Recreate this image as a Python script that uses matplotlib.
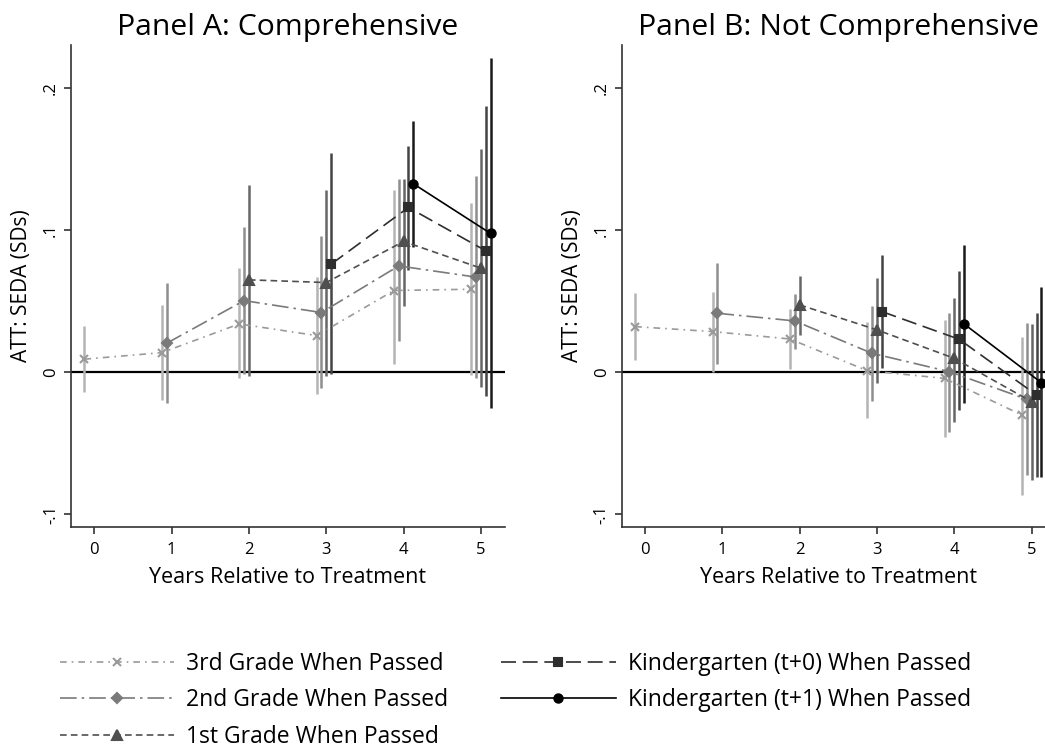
import numpy as np
import matplotlib
matplotlib.use("Agg")
import matplotlib.pyplot as plt

plt.rcParams['font.family'] = ['Open Sans', 'DejaVu Sans']

# years relative to treatment for each cohort
t_3rd = [0, 1, 2, 3, 4, 5]
t_2nd = [1, 2, 3, 4, 5]
t_1st = [2, 3, 4, 5]
t_k0 = [3, 4, 5]
t_k1 = [4, 5]

# Panel A: Comprehensive (estimate, lower CI, upper CI)
a_3rd = [0.009, 0.0136, 0.0338, 0.0256, 0.0573, 0.0582]
a_3rd_lo = [-0.0139, -0.0197, -0.0045, -0.0155, 0.0056, -0.0021]
a_3rd_hi = [0.0324, 0.0472, 0.073, 0.0671, 0.1277, 0.119]

a_2nd = [0.0202, 0.0502, 0.0418, 0.0746, 0.0667]
a_2nd_lo = [-0.022, -0.0014, -0.0115, 0.0215, -0.0045]
a_2nd_hi = [0.0629, 0.102, 0.0958, 0.1357, 0.1376]

a_1st = [0.0648, 0.0629, 0.0918, 0.073]
a_1st_lo = [-0.0028, -0.0028, 0.0465, -0.0108]
a_1st_hi = [0.1317, 0.1277, 0.1359, 0.157]

a_k0 = [0.0758, 0.1157, 0.0852]
a_k0_lo = [-0.0014, 0.0718, -0.017]
a_k0_hi = [0.154, 0.1592, 0.187]

a_k1 = [0.1324, 0.0974]
a_k1_lo = [0.088, -0.0256]
a_k1_hi = [0.1763, 0.2209]

# Panel B: Not Comprehensive
b_3rd = [0.0319, 0.0284, 0.0232, 0.0009, -0.0045, -0.0303]
b_3rd_lo = [0.0085, 0.0002, 0.0019, -0.0326, -0.0455, -0.0866]
b_3rd_hi = [0.0554, 0.0559, 0.0441, 0.0354, 0.0366, 0.0249]

b_2nd = [0.0413, 0.0359, 0.0131, 0.0002, -0.0192]
b_2nd_lo = [0.0056, 0.0162, -0.0204, -0.042, -0.0725]
b_2nd_hi = [0.0765, 0.0549, 0.0467, 0.0418, 0.0343]

b_1st = [0.0472, 0.0296, 0.0096, -0.0209]
b_1st_lo = [0.026, -0.008, -0.035, -0.0761]
b_1st_hi = [0.0676, 0.066, 0.0519, 0.0338]

b_k0 = [0.0425, 0.023, -0.0162]
b_k0_lo = [0.0026, -0.0268, -0.0737]
b_k0_hi = [0.0824, 0.0713, 0.0418]

b_k1 = [0.0338, -0.0075]
b_k1_lo = [-0.0216, -0.074]
b_k1_hi = [0.089, 0.0596]

labels = ['3rd Grade When Passed', '2nd Grade When Passed', '1st Grade When Passed',
          'Kindergarten (t+0) When Passed', 'Kindergarten (t+1) When Passed']
colors = ['#9a9a9a', '#7a7a7a', '#4f4f4f', '#2e2e2e', '#000000']
ci_colors = ['#b4b4b4', '#8e8e8e', '#666666', '#444444', '#1a1a1a']
markers = ['x', 'D', '^', 's', 'o']
msizes = [6, 5, 7, 6, 6]
styles = [(0, (4, 3, 1, 3)), (0, (10, 3, 1.5, 3)), (0, (4, 2.5)), (0, (9, 4)), '-']
offsets = [-0.125, -0.0625, 0, 0.0625, 0.125]

times = [t_3rd, t_2nd, t_1st, t_k0, t_k1]
panel_a = [(a_3rd, a_3rd_lo, a_3rd_hi), (a_2nd, a_2nd_lo, a_2nd_hi), (a_1st, a_1st_lo, a_1st_hi),
           (a_k0, a_k0_lo, a_k0_hi), (a_k1, a_k1_lo, a_k1_hi)]
panel_b = [(b_3rd, b_3rd_lo, b_3rd_hi), (b_2nd, b_2nd_lo, b_2nd_hi), (b_1st, b_1st_lo, b_1st_hi),
           (b_k0, b_k0_lo, b_k0_hi), (b_k1, b_k1_lo, b_k1_hi)]

fig = plt.figure(figsize=(10.45, 7.54), dpi=100)
ax1 = fig.add_axes([0.0679, 0.3011, 0.4153, 0.6393])
ax2 = fig.add_axes([0.5949, 0.3011, 0.4153, 0.6393])


def draw_panel(ax, data, title):
    ax.axhline(0, color='black', lw=1.6, zorder=1)
    handles = []
    for i in range(5):
        est, lo, hi = data[i]
        x = np.array(times[i]) + offsets[i]
        ax.vlines(x, lo, hi, color=ci_colors[i], lw=1.8, zorder=2)
        h, = ax.plot(x, est, color=colors[i], linestyle=styles[i], lw=1.2,
                     marker=markers[i], markersize=msizes[i], markeredgewidth=1.5,
                     zorder=3, label=labels[i])
        handles.append(h)
    ax.set_xlim(-0.3, 5.31)
    ax.set_ylim(-0.109, 0.230)
    ax.set_xticks([0, 1, 2, 3, 4, 5])
    ax.set_yticks([-0.1, 0, 0.1, 0.2])
    ax.set_yticklabels(['-.1', '0', '.1', '.2'], rotation=90, va='center')
    ax.tick_params(axis='both', labelsize=12, length=5, width=1.2, color='#333333', pad=6)
    ax.tick_params(axis='y', pad=3.5)
    for s in ['top', 'right']:
        ax.spines[s].set_visible(False)
    for s in ['left', 'bottom']:
        ax.spines[s].set_color('#333333')
        ax.spines[s].set_linewidth(1.2)
    ax.set_xlabel('Years Relative to Treatment', fontsize=15.5, labelpad=6)
    ax.set_ylabel('ATT: SEDA (SDs)', fontsize=15, labelpad=8)
    ax.set_title(title, fontsize=21.7, pad=7)
    return handles


handles = draw_panel(ax1, panel_a, 'Panel A: Comprehensive')
draw_panel(ax2, panel_b, 'Panel B: Not Comprehensive')

fig.legend(handles=handles, loc='upper left', bbox_to_anchor=(0.0375, 0.163), ncol=2,
           frameon=False, fontsize=16.5, handlelength=5.0, labelspacing=0.55,
           columnspacing=2.3, handletextpad=0.52, numpoints=1)

fig.savefig('out.png', dpi=100)
